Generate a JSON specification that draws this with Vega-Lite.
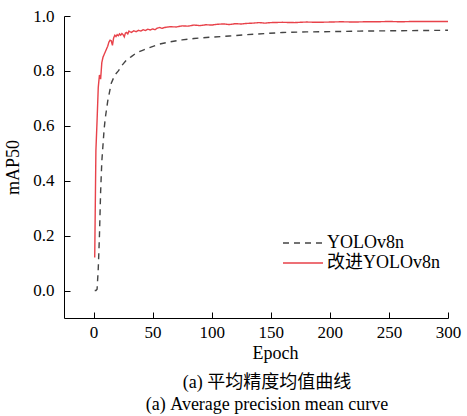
{
  "$schema": "https://vega.github.io/schema/vega-lite/v6.json",
  "autosize": {"type": "none"},
  "width": 384,
  "height": 302,
  "padding": {"left": 64, "top": 16, "right": 19, "bottom": 98},
  "background": "white",
  "config": {
    "font": "Liberation Serif, Noto Sans CJK SC",
    "view": {"stroke": null},
    "axis": {
      "grid": false,
      "domainColor": "#000000",
      "domainWidth": 1,
      "tickColor": "#000000",
      "tickWidth": 1,
      "tickSize": -6,
      "labelFont": "Liberation Serif",
      "labelFontSize": 17,
      "labelColor": "#000000",
      "titleFont": "Liberation Serif",
      "titleFontSize": 18,
      "titleFontWeight": "normal",
      "titleColor": "#000000"
    }
  },
  "title": {
    "text": ["(a) 平均精度均值曲线", "(a) Average precision mean curve"],
    "orient": "bottom",
    "anchor": "middle",
    "font": "Liberation Serif, Noto Sans CJK SC",
    "fontSize": 18,
    "fontWeight": "normal",
    "color": "#000000",
    "lineHeight": 22,
    "offset": 12,
    "dx": 11
  },
  "data": {
    "values": [
      {"model": "YOLOv8n", "epoch": 1, "map": 0.0},
      {"model": "YOLOv8n", "epoch": 2, "map": 0.0},
      {"model": "YOLOv8n", "epoch": 3, "map": 0.005},
      {"model": "YOLOv8n", "epoch": 4, "map": 0.08},
      {"model": "YOLOv8n", "epoch": 5, "map": 0.2},
      {"model": "YOLOv8n", "epoch": 6, "map": 0.36},
      {"model": "YOLOv8n", "epoch": 7, "map": 0.47},
      {"model": "YOLOv8n", "epoch": 8, "map": 0.53},
      {"model": "YOLOv8n", "epoch": 9, "map": 0.59},
      {"model": "YOLOv8n", "epoch": 10, "map": 0.63},
      {"model": "YOLOv8n", "epoch": 12, "map": 0.69},
      {"model": "YOLOv8n", "epoch": 15, "map": 0.755},
      {"model": "YOLOv8n", "epoch": 18, "map": 0.785},
      {"model": "YOLOv8n", "epoch": 21, "map": 0.8},
      {"model": "YOLOv8n", "epoch": 24, "map": 0.82},
      {"model": "YOLOv8n", "epoch": 28, "map": 0.84},
      {"model": "YOLOv8n", "epoch": 32, "map": 0.852},
      {"model": "YOLOv8n", "epoch": 36, "map": 0.865},
      {"model": "YOLOv8n", "epoch": 42, "map": 0.876},
      {"model": "YOLOv8n", "epoch": 48, "map": 0.886},
      {"model": "YOLOv8n", "epoch": 56, "map": 0.898},
      {"model": "YOLOv8n", "epoch": 65, "map": 0.906},
      {"model": "YOLOv8n", "epoch": 75, "map": 0.913},
      {"model": "YOLOv8n", "epoch": 85, "map": 0.918},
      {"model": "YOLOv8n", "epoch": 100, "map": 0.923},
      {"model": "YOLOv8n", "epoch": 115, "map": 0.927},
      {"model": "YOLOv8n", "epoch": 130, "map": 0.932},
      {"model": "YOLOv8n", "epoch": 145, "map": 0.936},
      {"model": "YOLOv8n", "epoch": 160, "map": 0.94},
      {"model": "YOLOv8n", "epoch": 180, "map": 0.942},
      {"model": "YOLOv8n", "epoch": 200, "map": 0.943},
      {"model": "YOLOv8n", "epoch": 225, "map": 0.945},
      {"model": "YOLOv8n", "epoch": 250, "map": 0.946},
      {"model": "YOLOv8n", "epoch": 275, "map": 0.947},
      {"model": "YOLOv8n", "epoch": 300, "map": 0.948},
      {"model": "改进YOLOv8n", "epoch": 1, "map": 0.12},
      {"model": "改进YOLOv8n", "epoch": 2, "map": 0.51},
      {"model": "改进YOLOv8n", "epoch": 3, "map": 0.62},
      {"model": "改进YOLOv8n", "epoch": 4, "map": 0.74},
      {"model": "改进YOLOv8n", "epoch": 5, "map": 0.785},
      {"model": "改进YOLOv8n", "epoch": 6, "map": 0.77},
      {"model": "改进YOLOv8n", "epoch": 7, "map": 0.83},
      {"model": "改进YOLOv8n", "epoch": 8, "map": 0.85},
      {"model": "改进YOLOv8n", "epoch": 9, "map": 0.86},
      {"model": "改进YOLOv8n", "epoch": 10, "map": 0.87},
      {"model": "改进YOLOv8n", "epoch": 11, "map": 0.88},
      {"model": "改进YOLOv8n", "epoch": 12, "map": 0.89},
      {"model": "改进YOLOv8n", "epoch": 13, "map": 0.905},
      {"model": "改进YOLOv8n", "epoch": 14, "map": 0.912},
      {"model": "改进YOLOv8n", "epoch": 15, "map": 0.91},
      {"model": "改进YOLOv8n", "epoch": 16, "map": 0.893},
      {"model": "改进YOLOv8n", "epoch": 17, "map": 0.92},
      {"model": "改进YOLOv8n", "epoch": 18, "map": 0.93},
      {"model": "改进YOLOv8n", "epoch": 19, "map": 0.925},
      {"model": "改进YOLOv8n", "epoch": 20, "map": 0.932},
      {"model": "改进YOLOv8n", "epoch": 21, "map": 0.928},
      {"model": "改进YOLOv8n", "epoch": 22, "map": 0.935},
      {"model": "改进YOLOv8n", "epoch": 23, "map": 0.93},
      {"model": "改进YOLOv8n", "epoch": 24, "map": 0.936},
      {"model": "改进YOLOv8n", "epoch": 25, "map": 0.932},
      {"model": "改进YOLOv8n", "epoch": 26, "map": 0.924},
      {"model": "改进YOLOv8n", "epoch": 27, "map": 0.938},
      {"model": "改进YOLOv8n", "epoch": 28, "map": 0.94},
      {"model": "改进YOLOv8n", "epoch": 29, "map": 0.935},
      {"model": "改进YOLOv8n", "epoch": 30, "map": 0.945},
      {"model": "改进YOLOv8n", "epoch": 32, "map": 0.94},
      {"model": "改进YOLOv8n", "epoch": 34, "map": 0.946},
      {"model": "改进YOLOv8n", "epoch": 36, "map": 0.943},
      {"model": "改进YOLOv8n", "epoch": 38, "map": 0.948},
      {"model": "改进YOLOv8n", "epoch": 40, "map": 0.945},
      {"model": "改进YOLOv8n", "epoch": 42, "map": 0.95},
      {"model": "改进YOLOv8n", "epoch": 44, "map": 0.947},
      {"model": "改进YOLOv8n", "epoch": 46, "map": 0.952},
      {"model": "改进YOLOv8n", "epoch": 48, "map": 0.949},
      {"model": "改进YOLOv8n", "epoch": 50, "map": 0.953},
      {"model": "改进YOLOv8n", "epoch": 52, "map": 0.95},
      {"model": "改进YOLOv8n", "epoch": 54, "map": 0.956},
      {"model": "改进YOLOv8n", "epoch": 56, "map": 0.958},
      {"model": "改进YOLOv8n", "epoch": 58, "map": 0.955},
      {"model": "改进YOLOv8n", "epoch": 60, "map": 0.958},
      {"model": "改进YOLOv8n", "epoch": 65, "map": 0.961},
      {"model": "改进YOLOv8n", "epoch": 70, "map": 0.96},
      {"model": "改进YOLOv8n", "epoch": 75, "map": 0.964},
      {"model": "改进YOLOv8n", "epoch": 80, "map": 0.963},
      {"model": "改进YOLOv8n", "epoch": 85, "map": 0.967},
      {"model": "改进YOLOv8n", "epoch": 90, "map": 0.965},
      {"model": "改进YOLOv8n", "epoch": 95, "map": 0.968},
      {"model": "改进YOLOv8n", "epoch": 100, "map": 0.967},
      {"model": "改进YOLOv8n", "epoch": 105, "map": 0.97},
      {"model": "改进YOLOv8n", "epoch": 110, "map": 0.971},
      {"model": "改进YOLOv8n", "epoch": 115, "map": 0.969},
      {"model": "改进YOLOv8n", "epoch": 120, "map": 0.972},
      {"model": "改进YOLOv8n", "epoch": 125, "map": 0.971},
      {"model": "改进YOLOv8n", "epoch": 130, "map": 0.973},
      {"model": "改进YOLOv8n", "epoch": 135, "map": 0.974},
      {"model": "改进YOLOv8n", "epoch": 140, "map": 0.976},
      {"model": "改进YOLOv8n", "epoch": 145, "map": 0.974},
      {"model": "改进YOLOv8n", "epoch": 150, "map": 0.976},
      {"model": "改进YOLOv8n", "epoch": 160, "map": 0.977},
      {"model": "改进YOLOv8n", "epoch": 170, "map": 0.976},
      {"model": "改进YOLOv8n", "epoch": 180, "map": 0.978},
      {"model": "改进YOLOv8n", "epoch": 190, "map": 0.977},
      {"model": "改进YOLOv8n", "epoch": 200, "map": 0.978},
      {"model": "改进YOLOv8n", "epoch": 210, "map": 0.979},
      {"model": "改进YOLOv8n", "epoch": 220, "map": 0.978},
      {"model": "改进YOLOv8n", "epoch": 230, "map": 0.979},
      {"model": "改进YOLOv8n", "epoch": 240, "map": 0.979},
      {"model": "改进YOLOv8n", "epoch": 250, "map": 0.98},
      {"model": "改进YOLOv8n", "epoch": 260, "map": 0.979},
      {"model": "改进YOLOv8n", "epoch": 270, "map": 0.98},
      {"model": "改进YOLOv8n", "epoch": 280, "map": 0.98},
      {"model": "改进YOLOv8n", "epoch": 290, "map": 0.98},
      {"model": "改进YOLOv8n", "epoch": 300, "map": 0.98}
    ]
  },
  "mark": {"type": "line", "strokeWidth": 1.4, "clip": true},
  "encoding": {
    "x": {
      "field": "epoch",
      "type": "quantitative",
      "scale": {"domain": [-25, 300], "nice": false, "zero": false},
      "axis": {"values": [0, 50, 100, 150, 200, 250, 300], "title": "Epoch", "titleX": 211, "titlePadding": 4, "labelPadding": 12, "labelFlush": false}
    },
    "y": {
      "field": "map",
      "type": "quantitative",
      "scale": {"domain": [-0.1, 1.0], "nice": false, "zero": false},
      "axis": {"values": [0, 0.2, 0.4, 0.6, 0.8, 1.0], "format": ".1f", "title": "mAP50", "titlePadding": 10, "labelPadding": 16, "labelFlush": false}
    },
    "color": {
      "field": "model",
      "type": "nominal",
      "scale": {"domain": ["YOLOv8n", "改进YOLOv8n"], "range": ["#444444", "#e8424a"]},
      "legend": {
        "title": null,
        "orient": "none",
        "legendX": 230,
        "legendY": 218,
        "symbolType": "M-4,0H4",
        "symbolSize": 100,
        "symbolStrokeWidth": 1.4,
        "labelFont": "Liberation Serif, Noto Sans CJK SC",
        "labelFontSize": 18,
        "labelColor": "#000000",
        "labelOffset": 15,
        "rowPadding": 2,
        "padding": 0
      }
    },
    "strokeDash": {
      "field": "model",
      "type": "nominal",
      "scale": {"domain": ["YOLOv8n", "改进YOLOv8n"], "range": [[6, 5], [1, 0]]},
      "legend": {
        "title": null,
        "orient": "none",
        "legendX": 230,
        "legendY": 218,
        "symbolType": "M-4,0H4",
        "symbolSize": 100,
        "symbolStrokeWidth": 1.4,
        "labelFont": "Liberation Serif, Noto Sans CJK SC",
        "labelFontSize": 18,
        "labelColor": "#000000",
        "labelOffset": 15,
        "rowPadding": 2,
        "padding": 0
      }
    }
  }
}
